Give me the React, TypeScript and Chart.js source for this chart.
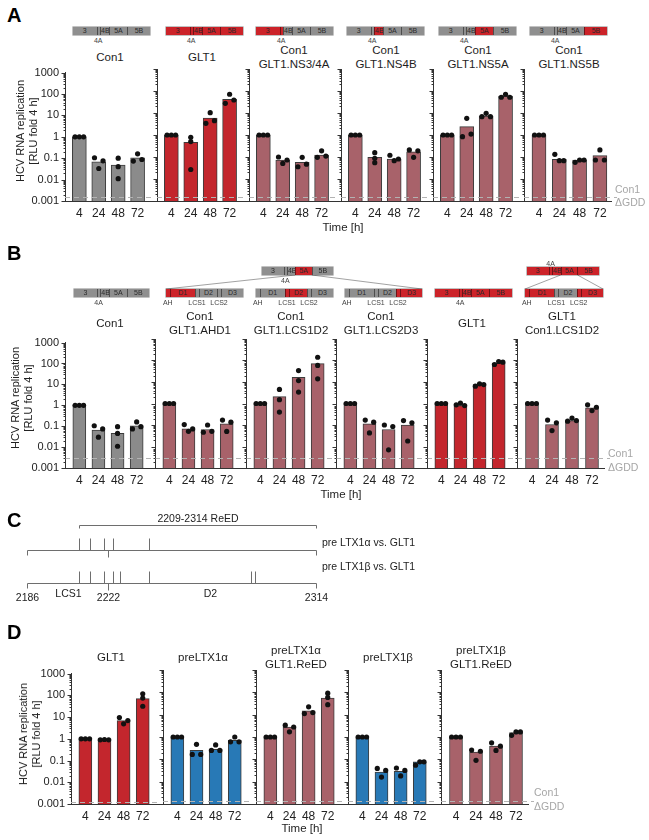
import React, { useEffect, useRef } from 'react';
import { Chart, registerables } from 'chart.js';

Chart.register(...registerables);

const FONT = '"Liberation Sans", Arial, Helvetica, sans-serif';
Chart.defaults.font.family = FONT;

// ---------- shared labels ----------
const TIME_LABELS = ['4', '24', '48', '72'];
const Y_TICK_VALUES = [0.001, 0.01, 0.1, 1, 10, 100, 1000];

// ---------- Panel A data ----------
const A_CON1_MEAN = [1, 0.068, 0.048, 0.104];
const A_CON1_DOTS = [[1, 1, 1], [0.105, 0.033, 0.075], [0.1, 0.04, 0.011], [0.073, 0.16, 0.087]];
const A_GLT1_MEAN = [1, 0.47, 5.9, 42];
const A_GLT1_DOTS = [[1, 1, 1], [0.78, 0.5, 0.027], [3.4, 10.3, 4.5], [27.6, 71, 39]];
const A_NS34A_MEAN = [1, 0.073, 0.057, 0.123];
const A_NS34A_DOTS = [[1, 1, 1], [0.1, 0.051, 0.073], [0.036, 0.097, 0.047], [0.097, 0.19, 0.11]];
const A_NS4B_MEAN = [1, 0.097, 0.081, 0.174];
const A_NS4B_DOTS = [[1, 1, 1], [0.157, 0.087, 0.055], [0.12, 0.068, 0.081], [0.21, 0.097, 0.19]];
const A_NS5A_MEAN = [1, 2.4, 7.3, 58];
const A_NS5A_DOTS = [[1, 1, 1], [0.84, 5.7, 1.1], [6.8, 9.7, 6.8], [52, 71, 52]];
const A_NS5B_MEAN = [1, 0.078, 0.073, 0.115];
const A_NS5B_DOTS = [[1, 1, 1], [0.133, 0.068, 0.068], [0.057, 0.073, 0.073], [0.073, 0.21, 0.073]];
const A_LIMIT = 0.0015;

// ---------- Panel B data ----------
const B_CON1_MEAN = [1, 0.066, 0.046, 0.105];
const B_CON1_DOTS = [[1, 1, 1], [0.105, 0.03, 0.074], [0.095, 0.045, 0.011], [0.074, 0.16, 0.095]];
const B_AHD1_MEAN = [1, 0.066, 0.062, 0.113];
const B_AHD1_DOTS = [[1, 1, 1], [0.105, 0.051, 0.066], [0.046, 0.1, 0.051], [0.17, 0.05, 0.135]];
const B_LCS1D2_MEAN = [1, 2.1, 16.7, 72];
const B_LCS1D2_DOTS = [[1, 1, 1], [4.5, 1.5, 0.4], [34, 11.7, 3.4], [142, 59, 14]];
const B_LCS2D3_MEAN = [1, 0.113, 0.062, 0.1];
const B_LCS2D3_DOTS = [[1, 1, 1], [0.17, 0.043, 0.135], [0.1, 0.007, 0.085], [0.16, 0.018, 0.126]];
const B_GLT1_MEAN = [1, 0.8, 7.6, 75];
const B_GLT1_DOTS = [[1, 1, 1], [0.87, 1.03, 0.8], [6.4, 8.2, 7.6], [65, 90, 84]];
const B_CLCS1D2_MEAN = [1, 0.105, 0.16, 0.63];
const B_CLCS1D2_DOTS = [[1, 1, 1], [0.17, 0.055, 0.126], [0.15, 0.21, 0.16], [0.87, 0.47, 0.67]];
const B_LIMIT = 0.0029;

// ---------- Panel C data ----------
const C_START = 2186;
const C_SPLIT = 2222;
const C_END = 2314;
const RE_ED = [2209, 2314];
const ALPHA_MUT = [2209, 2214, 2220, 2224, 2240];
const BETA_MUT = [2209, 2214, 2220, 2224, 2227, 2240, 2285, 2287];
const C_REGION_NAMES = ['LCS1', 'D2'];
const C_REGION_POS = [2204, 2267];

// ---------- Panel D data ----------
const D_GLT1_MEAN = [1, 0.9, 6.9, 70];
const D_GLT1_DOTS = [[1, 1, 1], [0.9, 0.93, 0.9], [9.5, 4.9, 6.9], [118, 75, 31.5]];
const D_A_MEAN = [1, 0.25, 0.28, 0.71];
const D_A_DOTS = [[1, 1, 1], [0.166, 0.47, 0.166], [0.25, 0.44, 0.25], [0.61, 1.0, 0.61]];
const D_AR_MEAN = [1, 2.8, 14.8, 55];
const D_AR_DOTS = [[1, 1, 1], [3.4, 1.7, 2.8], [11.2, 22.4, 12.4], [92, 59, 28]];
const D_B_MEAN = [1, 0.027, 0.029, 0.077];
const D_B_DOTS = [[1, 1, 1], [0.039, 0.016, 0.032], [0.041, 0.018, 0.032], [0.055, 0.077, 0.077]];
const D_BR_MEAN = [1, 0.21, 0.39, 1.56];
const D_BR_DOTS = [[1, 1, 1], [0.26, 0.09, 0.23], [0.55, 0.25, 0.39], [1.19, 1.68, 1.68]];
const D_LIMIT = 0.0013;

// ---------- styles ----------
const GRAY = '#8b8b8b';
const RED = '#c3262d';
const ROSE = '#a8626a';
const BLUE = '#2879b6';
const BOX_GRAY = '#8f8f8f';
const BOX_RED = '#cc2329';
const AXIS = '#333';

type Panel = { title: string[]; color: string; mean: number[]; dots: number[][] };

const A_PANELS: Panel[] = [
  { title: ['Con1'], color: GRAY, mean: A_CON1_MEAN, dots: A_CON1_DOTS },
  { title: ['GLT1'], color: RED, mean: A_GLT1_MEAN, dots: A_GLT1_DOTS },
  { title: ['Con1', 'GLT1.NS3/4A'], color: ROSE, mean: A_NS34A_MEAN, dots: A_NS34A_DOTS },
  { title: ['Con1', 'GLT1.NS4B'], color: ROSE, mean: A_NS4B_MEAN, dots: A_NS4B_DOTS },
  { title: ['Con1', 'GLT1.NS5A'], color: ROSE, mean: A_NS5A_MEAN, dots: A_NS5A_DOTS },
  { title: ['Con1', 'GLT1.NS5B'], color: ROSE, mean: A_NS5B_MEAN, dots: A_NS5B_DOTS },
];
const B_PANELS: Panel[] = [
  { title: ['Con1'], color: GRAY, mean: B_CON1_MEAN, dots: B_CON1_DOTS },
  { title: ['Con1', 'GLT1.AHD1'], color: ROSE, mean: B_AHD1_MEAN, dots: B_AHD1_DOTS },
  { title: ['Con1', 'GLT1.LCS1D2'], color: ROSE, mean: B_LCS1D2_MEAN, dots: B_LCS1D2_DOTS },
  { title: ['Con1', 'GLT1.LCS2D3'], color: ROSE, mean: B_LCS2D3_MEAN, dots: B_LCS2D3_DOTS },
  { title: ['GLT1'], color: RED, mean: B_GLT1_MEAN, dots: B_GLT1_DOTS },
  { title: ['GLT1', 'Con1.LCS1D2'], color: ROSE, mean: B_CLCS1D2_MEAN, dots: B_CLCS1D2_DOTS },
];
const D_PANELS: Panel[] = [
  { title: ['GLT1'], color: RED, mean: D_GLT1_MEAN, dots: D_GLT1_DOTS },
  { title: ['preLTX1α'], color: BLUE, mean: D_A_MEAN, dots: D_A_DOTS },
  { title: ['preLTX1α', 'GLT1.ReED'], color: ROSE, mean: D_AR_MEAN, dots: D_AR_DOTS },
  { title: ['preLTX1β'], color: BLUE, mean: D_B_MEAN, dots: D_B_DOTS },
  { title: ['preLTX1β', 'GLT1.ReED'], color: ROSE, mean: D_BR_MEAN, dots: D_BR_DOTS },
];

// layout
const A_X0 = [65, 157, 249, 341, 433, 524];
const B_X0 = [65, 155, 246, 336, 427, 517];
const D_X0 = [71, 163, 256, 348, 441];

// dots spread horizontally only when they collide vertically
function dotOffsets(vals: number[]) {
  const l = vals.map((v) => Math.log10(v));
  let minD = Infinity;
  for (let i = 0; i < l.length; i++) for (let j = i + 1; j < l.length; j++) minD = Math.min(minD, Math.abs(l[i] - l[j]));
  return minD > 0.17 ? vals.map(() => 0) : [-0.22, 0, 0.22];
}

const yTickMarks = {
  id: 'yTickMarks',
  afterDraw(chart: any) {
    const { ctx, chartArea, scales } = chart;
    const y = scales.y;
    const ax = chartArea.left + 0.5;
    ctx.save();
    ctx.strokeStyle = AXIS;
    ctx.lineWidth = 1;
    ctx.beginPath();
    for (let d = -3; d <= 3; d++) {
      for (let m = 1; m <= 9; m++) {
        if (d === 3 && m > 1) break;
        const v = m * Math.pow(10, d);
        const py = Math.round(y.getPixelForValue(v)) + 0.5;
        const len = m === 1 ? 4 : 2;
        ctx.moveTo(ax - len, py);
        ctx.lineTo(ax, py);
      }
    }
    ctx.stroke();
    ctx.restore();
  },
};

const limitLine = {
  id: 'limitLine',
  afterDatasetsDraw(chart: any, _args: any, opts: any) {
    const { ctx, chartArea, scales } = chart;
    const py = Math.round(scales.y.getPixelForValue(opts.value)) + 0.5;
    ctx.save();
    ctx.strokeStyle = '#b3b3b3';
    ctx.lineWidth = 1.2;
    ctx.setLineDash([5, 4]);
    ctx.beginPath();
    ctx.moveTo(chartArea.left, py);
    ctx.lineTo(chartArea.right + (opts.ext || 0), py);
    ctx.stroke();
    ctx.restore();
  },
};

type BarProps = {
  x0: number; width: number; top: number; bottom: number; unit: number; barW: number;
  panel: Panel; showLabels: boolean; limit: number; ext: number;
};

function BarPanel({ x0, width, top, bottom, unit, barW, panel, showLabels, limit, ext }: BarProps) {
  const ref = useRef<HTMLCanvasElement>(null);
  const LW = showLabels ? x0 : 10;
  const PT = 9;
  const XH = 24;
  const cw = Math.ceil(LW + width + ext);
  const ch = Math.round(PT + (bottom - top) + XH);
  useEffect(() => {
    const min = -15 / unit;
    const max = min + width / unit;
    const pts: { x: number; y: number }[] = [];
    panel.dots.forEach((vals, i) => {
      const offs = dotOffsets(vals);
      vals.forEach((v, j) => pts.push({ x: i + offs[j], y: v }));
    });
    const chart = new Chart(ref.current as HTMLCanvasElement, {
      type: 'bar',
      data: {
        datasets: [
          { type: 'scatter', data: pts, backgroundColor: '#111', borderColor: '#111', borderWidth: 0, pointRadius: 2.6, order: 1 } as any,
          { type: 'bar', data: panel.mean.map((v, i) => ({ x: i, y: v })), backgroundColor: panel.color, borderColor: '#3b3b3b', borderWidth: 1, barThickness: barW, order: 2 } as any,
        ],
      },
      options: {
        animation: false,
        responsive: false,
        maintainAspectRatio: false,
        events: [],
        layout: { padding: { top: PT, right: ext, left: 0, bottom: 0 } },
        plugins: { legend: { display: false }, tooltip: { enabled: false }, limitLine: { value: limit, ext } } as any,
        scales: {
          x: {
            type: 'linear', min, max, offset: false,
            grid: { display: false, drawTicks: false },
            border: { display: true, color: AXIS, width: 1 },
            afterBuildTicks: (s: any) => { s.ticks = TIME_LABELS.map((_, i) => ({ value: i })); },
            afterFit: (s: any) => { s.height = XH; },
            ticks: { autoSkip: false, maxRotation: 0, padding: 5, color: '#222', font: { size: 12, family: FONT }, callback: (_v: any, i: number) => TIME_LABELS[i] },
          },
          y: {
            type: 'logarithmic', min: 0.001, max: 1000,
            grid: { display: false, drawTicks: false },
            border: { display: true, color: AXIS, width: 1 },
            afterBuildTicks: (s: any) => { s.ticks = Y_TICK_VALUES.map((v) => ({ value: v })); },
            afterFit: (s: any) => { s.width = LW; },
            ticks: { display: showLabels, padding: 6, color: '#222', font: { size: 11, family: FONT }, callback: (v: any) => String(v) },
          },
        } as any,
      },
      plugins: [yTickMarks, limitLine],
    });
    return () => chart.destroy();
  }, []);
  return (
    <canvas
      ref={ref}
      width={cw}
      height={ch}
      style={{ position: 'absolute', left: x0 - LW, top: top - PT, width: cw, height: ch }}
    />
  );
}

function Txt({ x, y, children, size = 11.5, color = '#1e1e1e', weight = 400, left = false, lh = 14 }: any) {
  return (
    <div
      style={{
        position: 'absolute', left: x, top: y,
        transform: left ? 'translate(0,-50%)' : 'translate(-50%,-50%)',
        fontSize: size, color, fontWeight: weight, whiteSpace: 'nowrap',
        lineHeight: `${lh}px`, textAlign: 'center', fontFamily: FONT,
      }}
    >
      {children}
    </div>
  );
}

function YTitle({ x, y }: { x: number; y: number }) {
  return (
    <div
      style={{
        position: 'absolute', left: x, top: y,
        transform: 'translate(-50%,-50%) rotate(-90deg)',
        fontSize: 11, color: '#222', whiteSpace: 'nowrap', lineHeight: '13px',
        textAlign: 'center', fontFamily: FONT,
      }}
    >
      HCV RNA replication<br />[RLU fold 4 h]
    </div>
  );
}

type Row = { x0s: number[]; top: number; bottom: number; unit: number; barW: number; limit: number; panels: Panel[] };

function BarRow({ x0s, top, bottom, unit, barW, limit, panels }: Row) {
  const n = panels.length;
  return (
    <>
      {panels.map((p, k) => (
        <BarPanel
          key={k}
          x0={x0s[k]}
          width={k < n - 1 ? x0s[k + 1] - x0s[k] : 87}
          top={top}
          bottom={bottom}
          unit={unit}
          barW={barW}
          panel={p}
          showLabels={k === 0}
          limit={limit}
          ext={k === n - 1 ? 6 : 0}
        />
      ))}
    </>
  );
}

function Titles({ panels, xs, y }: { panels: Panel[]; xs: number[]; y: number }) {
  return (
    <>
      {panels.map((p, k) => (
        <Txt key={k} x={xs[k]} y={y}>
          {p.title.map((t, i) => (
            <React.Fragment key={i}>{i > 0 && <br />}{t}</React.Fragment>
          ))}
        </Txt>
      ))}
    </>
  );
}

// ---------- construct diagrams ----------
type Seg = { w: number; t: string; sub?: string };
const NS_SEGS: Seg[] = [
  { w: 23.5, t: '3' }, { w: 3.5, t: '', sub: '4A' }, { w: 9, t: '4B' }, { w: 18, t: '5A' }, { w: 23, t: '5B' },
];
const DOM_SEGS: Seg[] = [
  { w: 3.5, t: '', sub: 'AH' }, { w: 25.5, t: 'D1' }, { w: 4, t: '', sub: 'LCS1' }, { w: 18, t: 'D2' }, { w: 4, t: '', sub: 'LCS2' }, { w: 22, t: 'D3' },
];
const BOX_H = 8;

function Construct({ x, y, w, segs, red, subAbove = false }: { x: number; y: number; w: number; segs: Seg[]; red: number[]; subAbove?: boolean }) {
  const total = segs.reduce((a, s) => a + s.w, 0);
  let acc = 0;
  const subs: any[] = [];
  const cells = segs.map((s, i) => {
    const l = (acc / total) * w;
    const sw = (s.w / total) * w;
    acc += s.w;
    if (s.sub) {
      subs.push(
        <div key={'s' + i} style={{
          position: 'absolute', left: x + l + sw / 2, top: subAbove ? y - 4.5 : y + BOX_H + 4.5,
          transform: 'translate(-50%,-50%)', fontSize: 7, color: '#444', lineHeight: 1, whiteSpace: 'nowrap', fontFamily: FONT,
        }}>{s.sub}</div>
      );
    }
    return (
      <div key={i} style={{
        position: 'absolute', left: l, top: 0, width: sw, height: BOX_H,
        background: red[i] ? BOX_RED : BOX_GRAY,
        borderLeft: i ? '1px solid rgba(0,0,0,0.45)' : 'none', boxSizing: 'border-box',
        fontSize: 7, lineHeight: `${BOX_H}px`, textAlign: 'center', color: '#2a2a2a', whiteSpace: 'nowrap', fontFamily: FONT,
      }}>{s.t}</div>
    );
  });
  return (
    <>
      <div style={{ position: 'absolute', left: x, top: y, width: w, height: BOX_H, boxShadow: '0 0 0 0.6px rgba(0,0,0,0.4)' }}>{cells}</div>
      {subs}
    </>
  );
}

const A_BOX_X = [73, 166, 256, 347, 439, 530];
const A_BOX_RED = [[0, 0, 0, 0, 0], [1, 1, 1, 1, 1], [1, 1, 0, 0, 0], [0, 0, 1, 0, 0], [0, 0, 0, 1, 0], [0, 0, 0, 0, 1]];
const B_BOX_X = [74, 166, 256, 345, 435, 525];
const B_BOX_W = [75, 77, 77, 77, 77, 78];
const B_BOX_SEGS = [NS_SEGS, DOM_SEGS, DOM_SEGS, DOM_SEGS, NS_SEGS, DOM_SEGS];
const B_BOX_RED = [[0, 0, 0, 0, 0], [1, 1, 0, 0, 0, 0], [0, 0, 1, 1, 0, 0], [0, 0, 0, 0, 1, 1], [1, 1, 1, 1, 1], [1, 1, 0, 0, 1, 1]];

function segEdge(segs: Seg[], idx: number, x: number, w: number) {
  const total = segs.reduce((a, s) => a + s.w, 0);
  let acc = 0;
  for (let i = 0; i < idx; i++) acc += segs[i].w;
  return x + (acc / total) * w;
}

// ---------- panel C ----------
const C_LAYOUT = { reedText: 14, reed: 20, alphaTop: 33, alpha: 45, alphaLabel: 38, betaLabel: 62, betaTop: 66, beta: 78, nums: 93, regions: 89 };

const regionPlugin = {
  id: 'regionPlugin',
  afterDraw(chart: any) {
    const { ctx, chartArea: ca, scales } = chart;
    const x = scales.x;
    const px = (v: number) => Math.round(x.getPixelForValue(v)) + 0.5;
    const Y = (v: number) => Math.round(ca.top + v) + 0.5;
    const L = C_LAYOUT;
    ctx.save();
    ctx.strokeStyle = '#6e6e6e';
    ctx.lineWidth = 1;
    const line = (x1: number, y1: number, x2: number, y2: number) => {
      ctx.beginPath(); ctx.moveTo(x1, y1); ctx.lineTo(x2, y2); ctx.stroke();
    };
    // ReED span
    line(px(RE_ED[0]), Y(L.reed), px(RE_ED[1]), Y(L.reed));
    line(px(RE_ED[0]), Y(L.reed), px(RE_ED[0]), Y(L.reed + 3));
    line(px(RE_ED[1]), Y(L.reed), px(RE_ED[1]), Y(L.reed + 3));
    // sequences
    const drawSeq = (muts: number[], top: number, base: number) => {
      line(px(C_START), Y(base), px(C_END), Y(base));
      line(px(C_START), Y(base), px(C_START), Y(base + 5));
      line(px(C_END), Y(base), px(C_END), Y(base + 5));
      line(px(C_SPLIT), Y(base), px(C_SPLIT), Y(base + 6.5));
      muts.forEach((m) => line(px(m), Y(top), px(m), Y(base)));
    };
    drawSeq(ALPHA_MUT, L.alphaTop, L.alpha);
    drawSeq(BETA_MUT, L.betaTop, L.beta);
    // text
    ctx.fillStyle = '#222';
    ctx.textBaseline = 'middle';
    ctx.font = `10.5px ${FONT}`;
    ctx.textAlign = 'center';
    ctx.fillText(`${RE_ED[0]}-${RE_ED[1]} ReED`, (px(RE_ED[0]) + px(RE_ED[1])) / 2, ca.top + L.reedText);
    [C_START, C_SPLIT, C_END].forEach((v) => ctx.fillText(String(v), px(v), ca.top + L.nums));
    C_REGION_NAMES.forEach((n, i) => ctx.fillText(n, px(C_REGION_POS[i]), ca.top + L.regions));
    ctx.textAlign = 'left';
    ctx.fillText('pre LTX1α vs. GLT1', ca.right + 6, ca.top + L.alphaLabel);
    ctx.fillText('pre LTX1β vs. GLT1', ca.right + 6, ca.top + L.betaLabel);
    ctx.restore();
  },
};

function RegionPanel() {
  const ref = useRef<HTMLCanvasElement>(null);
  useEffect(() => {
    const chart = new Chart(ref.current as HTMLCanvasElement, {
      type: 'scatter',
      data: { datasets: [] },
      options: {
        animation: false, responsive: false, maintainAspectRatio: false, events: [],
        layout: { padding: { left: 27, right: 649 - 316, top: 0, bottom: 0 } },
        plugins: { legend: { display: false }, tooltip: { enabled: false } },
        scales: {
          x: { type: 'linear', min: C_START, max: C_END, display: false },
          y: { type: 'linear', min: 0, max: 1, display: false },
        },
      },
      plugins: [regionPlugin],
    });
    return () => chart.destroy();
  }, []);
  return <canvas ref={ref} width={649} height={100} style={{ position: 'absolute', left: 0, top: 505, width: 649, height: 100 }} />;
}

const Letter = ({ x, y, t }: { x: number; y: number; t: string }) => (
  <Txt x={x} y={y} size={20} weight={700} left color="#000" lh={20}>{t}</Txt>
);

export default function App() {
  const topC = { x: 262, y: 267, w: 71 };
  const topR = { x: 527, y: 267, w: 72 };
  const bY = 289;
  return (
    <div style={{ position: 'absolute', left: 0, top: 0, width: 649, height: 840, background: '#fff', overflow: 'hidden', fontFamily: FONT }}>
      {/* Panel A */}
      <Letter x={7} y={15} t="A" />
      {A_BOX_X.map((bx, k) => (
        <Construct key={k} x={bx} y={27} w={77} segs={NS_SEGS} red={A_BOX_RED[k]} />
      ))}
      <Titles panels={A_PANELS} xs={A_X0.map((x) => x + 45)} y={57} />
      <BarRow x0s={A_X0} top={69} bottom={201} unit={20.3} barW={14} limit={A_LIMIT} panels={A_PANELS} />
      <YTitle x={26.5} y={131} />
      <Txt x={343} y={227} size={11.5}>Time [h]</Txt>
      <Txt x={615} y={189} size={10.5} color="#a6a6a6" left>Con1</Txt>
      <Txt x={615} y={202} size={10.5} color="#a6a6a6" left>ΔGDD</Txt>

      {/* Panel B */}
      <Letter x={7} y={253} t="B" />
      <svg width={649} height={840} style={{ position: 'absolute', left: 0, top: 0 }}>
        <g stroke="#8a8a8a" strokeWidth={0.8}>
          <line x1={segEdge(NS_SEGS, 3, topC.x, topC.w)} y1={topC.y + BOX_H} x2={B_BOX_X[1]} y2={bY} />
          <line x1={segEdge(NS_SEGS, 4, topC.x, topC.w)} y1={topC.y + BOX_H} x2={B_BOX_X[3] + B_BOX_W[3]} y2={bY} />
          <line x1={segEdge(NS_SEGS, 3, topR.x, topR.w)} y1={topR.y + BOX_H} x2={B_BOX_X[5]} y2={bY} />
          <line x1={segEdge(NS_SEGS, 4, topR.x, topR.w)} y1={topR.y + BOX_H} x2={B_BOX_X[5] + B_BOX_W[5]} y2={bY} />
        </g>
      </svg>
      <Construct x={topC.x} y={topC.y} w={topC.w} segs={NS_SEGS} red={[0, 0, 0, 1, 0]} />
      <Construct x={topR.x} y={topR.y} w={topR.w} segs={NS_SEGS} red={[1, 1, 1, 1, 1]} subAbove />
      {B_BOX_X.map((bx, k) => (
        <Construct key={k} x={bx} y={bY} w={B_BOX_W[k]} segs={B_BOX_SEGS[k]} red={B_BOX_RED[k]} />
      ))}
      <Titles panels={B_PANELS} xs={B_X0.map((x) => x + 45)} y={323} />
      <BarRow x0s={B_X0} top={339} bottom={468} unit={20} barW={13} limit={B_LIMIT} panels={B_PANELS} />
      <YTitle x={21.5} y={398} />
      <Txt x={341} y={494} size={11.5}>Time [h]</Txt>
      <Txt x={608} y={453} size={10.5} color="#a6a6a6" left>Con1</Txt>
      <Txt x={608} y={467} size={10.5} color="#a6a6a6" left>ΔGDD</Txt>

      {/* Panel C */}
      <Letter x={7} y={520} t="C" />
      <RegionPanel />

      {/* Panel D */}
      <Letter x={7} y={632} t="D" />
      <Titles panels={D_PANELS} xs={D_X0.map((x) => x + 40)} y={657} />
      <BarRow x0s={D_X0} top={669.5} bottom={803} unit={20} barW={13} limit={D_LIMIT} panels={D_PANELS} />
      <YTitle x={30} y={734} />
      <Txt x={302} y={828} size={11.5}>Time [h]</Txt>
      <Txt x={534} y={792} size={10.5} color="#a6a6a6" left>Con1</Txt>
      <Txt x={534} y={806} size={10.5} color="#a6a6a6" left>ΔGDD</Txt>
    </div>
  );
}
